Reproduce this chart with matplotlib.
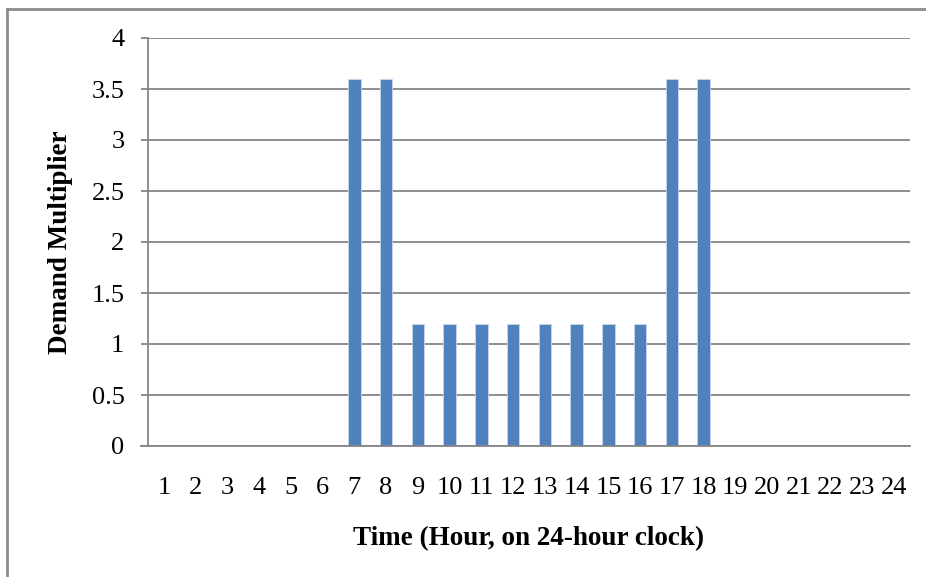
import numpy as np
import matplotlib.pyplot as plt
from matplotlib.lines import Line2D

hours = [str(h) for h in range(1, 25)]
multiplier = [0, 0, 0, 0, 0, 0, 3.6, 3.6, 1.2, 1.2, 1.2, 1.2,
              1.2, 1.2, 1.2, 1.2, 3.6, 3.6, 0, 0, 0, 0, 0, 0]
y_ticks = [0, 0.5, 1, 1.5, 2, 2.5, 3, 3.5, 4]
y_tick_labels = ['0', '0.5', '1', '1.5', '2', '2.5', '3', '3.5', '4']

plt.rcParams['font.family'] = ['Liberation Serif', 'DejaVu Serif']

fig = plt.figure(figsize=(9.26, 5.77), dpi=100)
W, H = 926, 577
ax = fig.add_axes([148 / W, 1 - 446 / H, (910 - 148) / W, (446 - 38) / H])

x = np.arange(len(hours))
ax.bar(x, multiplier, width=0.4, color='#4F81BD', edgecolor='#c9d6ea',
       linewidth=0.6, zorder=3)

ax.set_xlim(-0.5, len(hours) - 0.5)
ax.set_ylim(0, 4)
ax.set_yticks(y_ticks)
ax.set_yticklabels(y_tick_labels)
ax.set_xticks(x)
ax.set_xticklabels(hours)

grid_col = '#868686'
ax.yaxis.grid(True, color=grid_col, linewidth=1.3, zorder=0)
ax.set_axisbelow(True)
for side in ['top', 'right']:
    ax.spines[side].set_visible(False)
ax.spines['left'].set_color(grid_col)
ax.spines['left'].set_linewidth(1.3)
ax.spines['bottom'].set_visible(False)

ax.tick_params(axis='y', length=5, width=1.3, color=grid_col, labelsize=19, pad=12)
ax.tick_params(axis='x', length=0, labelsize=19, pad=22)

# bottom axis line extends slightly left like Excel
ax.add_line(Line2D([-0.72, len(hours) - 0.5], [0, 0], color=grid_col,
                   linewidth=1.3, clip_on=False, zorder=4))

ax.set_xlabel('Time (Hour, on 24-hour clock)', fontsize=19.5, fontweight='bold',
              labelpad=20)
ax.set_ylabel('Demand Multiplier', fontsize=19.5, fontweight='bold', labelpad=13)

# outer chart border (top and left visible)
fig.add_artist(Line2D([7 / W, 1], [1 - 9 / H, 1 - 9 / H], color='#8c8c8c',
                      linewidth=2, transform=fig.transFigure))
fig.add_artist(Line2D([7 / W, 7 / W], [0, 1 - 9 / H], color='#8c8c8c',
                      linewidth=2, transform=fig.transFigure))

fig.savefig('out.png', dpi=100)
